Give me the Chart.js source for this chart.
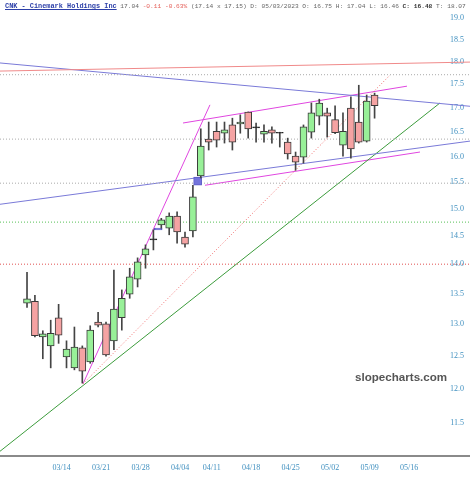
<!DOCTYPE html>
<html>
<head>
<meta charset="utf-8">
<title>CNK - Cinemark Holdings Inc</title>
<script src="https://cdn.jsdelivr.net/npm/chart.js@4.4.1/dist/chart.umd.min.js"></script>
<style>
    html, body { margin: 0; padding: 0; background: #fff; }
    #wrap { position: relative; width: 470px; height: 480px; overflow: hidden; }
    #chart { position: absolute; left: 0; top: 0; }
    #head {
        position: absolute; left: 5px; top: 2px;
        font: 6.2px "Liberation Mono", monospace; color: #666; white-space: nowrap;
    }
    #head .sym { color: #2c3fa8; font-weight: bold; font-size: 6.9px; text-decoration: underline; }
    #head .neg { color: #e4605a; }
    #head b { color: #333; }
    #mark {
        position: absolute; left: 355px; top: 370px;
        font: bold 11.6px "Liberation Sans", sans-serif; color: #555;
    }
</style>
</head>
<body>
<div id="wrap">
    <canvas id="chart" width="470" height="480"></canvas>
    <div id="head"><span class="sym">CNK - Cinemark Holdings Inc</span> 17.04 <span class="neg">-0.11</span> <span class="neg">-0.63%</span> (17.14 x 17.15) D: 05/03/2023 O: 16.75 H: 17.04 L: 16.46 <b>C: 16.48</b> T: 18.07</div>
    <div id="mark">slopecharts.com</div>
</div>
<script>
// ── Data: daily candles 03/08 .. 05/10 (trading-day index) ──────────────────
const opens  = [13.34,13.37,12.79,12.65,13.10,12.48,12.31,12.62,12.40,13.03,13.00,12.73,13.10,13.49,13.74,14.16,14.43,14.70,14.64,14.86,14.48,14.59,15.62,16.35,16.51,16.47,16.64,16.66,16.91,16.58,16.45,16.54,16.47,16.29,16.01,15.99,16.49,16.82,16.89,16.75,16.23,16.99,16.70,16.31,17.27];
const highs  = [13.86,13.47,12.89,13.06,13.32,12.73,12.95,12.65,12.97,13.19,13.03,13.90,13.56,13.93,14.11,14.34,14.61,14.82,14.92,14.94,14.57,15.44,16.56,16.70,16.70,16.70,16.78,16.85,16.91,16.68,16.64,16.60,16.49,16.37,16.09,16.64,17.10,17.18,16.99,17.04,16.89,17.23,17.48,17.27,17.31];
const lows   = [13.27,12.79,12.45,12.31,12.69,12.31,12.28,12.08,12.38,12.95,12.49,12.59,12.90,13.42,13.61,13.93,14.25,14.64,14.52,14.37,14.30,14.48,15.58,16.13,16.19,16.27,16.13,16.47,16.37,16.29,16.29,16.27,16.19,15.95,15.73,15.87,16.37,16.64,16.39,16.46,16.01,15.97,16.27,16.29,16.78];
const closes = [13.41,12.81,12.84,12.85,12.82,12.60,12.63,12.26,12.90,12.98,12.51,13.24,13.42,13.78,14.04,14.27,14.43,14.79,14.86,14.57,14.35,15.22,16.21,16.29,16.33,16.54,16.29,16.70,16.56,16.58,16.51,16.47,16.47,16.05,15.89,16.60,16.89,17.10,16.82,16.48,16.51,16.15,16.29,17.14,17.04];

// gap boxes (index, low, high)
const gapIdx = [16.6, 21.6];
const gapLo  = [14.61, 15.44];
const gapHi  = [14.64, 15.60];

// x axis ticks (trading-day index -> label)
const xTickIdx    = [4, 9, 14, 19, 23, 28, 33, 38, 43, 48];
const xTickLabels = ['03/14','03/21','03/28','04/04','04/11','04/18','04/25','05/02','05/09','05/16'];
const yTicks = [11.5, 12, 12.5, 13, 13.5, 14, 14.5, 15, 15.5, 16, 16.5, 17, 17.5, 18, 18.5, 19];

// view range
const X_MIN = -3.42, X_MAX = 56.08;
const Y_MIN = 11.035, Y_MAX = 19.43;

// trend lines: [[index, price], [index, price]]
const blueUpper    = [[-3.42, 17.97], [56.08, 17.03]];
const blueLower    = [[-3.42, 15.08], [56.08, 16.31]];
const redTop       = [[-3.42, 17.79], [56.08, 17.99]];
const greenRising  = [[-3.42, 11.10], [52.28, 17.10]];
const magentaSteep = [[7.09, 12.07], [23.16, 17.06]];
const redDotted    = [[7.09, 12.07], [45.95, 17.70]];
const channelUpper = [[19.75, 16.68], [48.10, 17.46]];
const channelLower = [[22.53, 15.44], [49.75, 16.09]];

// horizontal dotted levels
const levels      = [17.71, 16.35, 15.48, 14.75, 14.00];
const levelColors = ['#aaaaaa', '#aaaaaa', '#aaaaaa', '#55c055', '#e05050'];

// ── Build datasets ──────────────────────────────────────────────────────────
const GREEN = '#98f098', RED = '#f5a3a3', DOJI = '#222';
const bodyColor = opens.map((o, i) => closes[i] > o ? GREEN : closes[i] < o ? RED : DOJI);
const bodyBorder = opens.map((o, i) => closes[i] === o ? DOJI : '#3a3a3a');

function seg(points, color, dash, width) {
    return {
        type: 'line',
        data: points.map(p => ({ x: p[0], y: p[1] })),
        borderColor: color,
        borderWidth: width || 1,
        borderDash: dash || [],
        pointRadius: 0,
        tension: 0,
        fill: false,
        order: 5
    };
}

const datasets = [];
levels.forEach((v, i) => datasets.push(seg([[X_MIN, v], [X_MAX, v]], levelColors[i], [1, 2])));
datasets.push(seg(redTop, '#f08a8a'));
datasets.push(seg(blueUpper, '#7a7ad8'));
datasets.push(seg(blueLower, '#7a7ad8'));
datasets.push(seg(greenRising, '#3c9c3c'));
datasets.push(seg(redDotted, '#f06a6a', [1, 2]));
datasets.push(seg(magentaSteep, '#e046e0'));
datasets.push(seg(channelUpper, '#e046e0'));
datasets.push(seg(channelLower, '#e046e0'));

datasets.push({
    type: 'bar',
    data: gapIdx.map((x, i) => ({ x: x, y: [gapLo[i], gapHi[i]] })),
    backgroundColor: '#7474dc',
    borderColor: '#5a5ac8',
    borderWidth: 1,
    borderSkipped: false,
    barThickness: 8,
    grouped: false,
    order: 4
});
// wicks
datasets.push({
    type: 'bar',
    data: highs.map((h, i) => ({ x: i, y: [lows[i], h] })),
    backgroundColor: '#444',
    barThickness: 1,
    grouped: false,
    order: 3
});
// bodies
datasets.push({
    type: 'bar',
    data: opens.map((o, i) => ({ x: i, y: [o, closes[i]] })),
    backgroundColor: bodyColor,
    borderColor: bodyBorder,
    borderWidth: 1,
    borderSkipped: false,
    barThickness: 7,
    minBarLength: 1,
    grouped: false,
    order: 2
});

const tickColor = '#3f8fbf';
const tickFont = { family: '"Liberation Serif", serif', size: 8 };

new Chart(document.getElementById('chart'), {
    type: 'bar',
    data: { datasets },
    options: {
        responsive: false,
        animation: false,
        devicePixelRatio: 1,
        layout: { padding: 0 },
        plugins: { legend: { display: false }, tooltip: { enabled: false } },
        scales: {
            x: {
                type: 'linear',
                min: X_MIN,
                max: X_MAX,
                offset: false,
                grid: { display: false, drawTicks: false },
                border: { display: true, color: '#8a8a8a', width: 2 },
                afterBuildTicks: s => { s.ticks = xTickIdx.map(v => ({ value: v })); },
                afterFit: s => { s.height = 24; s.paddingLeft = 0; s.paddingRight = 0; },
                ticks: {
                    autoSkip: false, maxRotation: 0,
                    padding: 7, labelOffset: 3,
                    color: tickColor, font: tickFont,
                    callback: (v, i) => xTickLabels[i]
                }
            },
            y: {
                type: 'logarithmic',
                position: 'right',
                min: Y_MIN,
                max: Y_MAX,
                grid: { display: false, drawTicks: false },
                border: { display: false },
                afterBuildTicks: s => { s.ticks = yTicks.map(v => ({ value: v })); },
                afterFit: s => { s.width = 0; s.paddingTop = 0; s.paddingBottom = 0; },
                ticks: {
                    autoSkip: false, mirror: true, padding: -6,
                    color: tickColor, font: tickFont,
                    callback: v => Number(v).toFixed(1)
                }
            }
        }
    }
});
</script>
</body>
</html>
